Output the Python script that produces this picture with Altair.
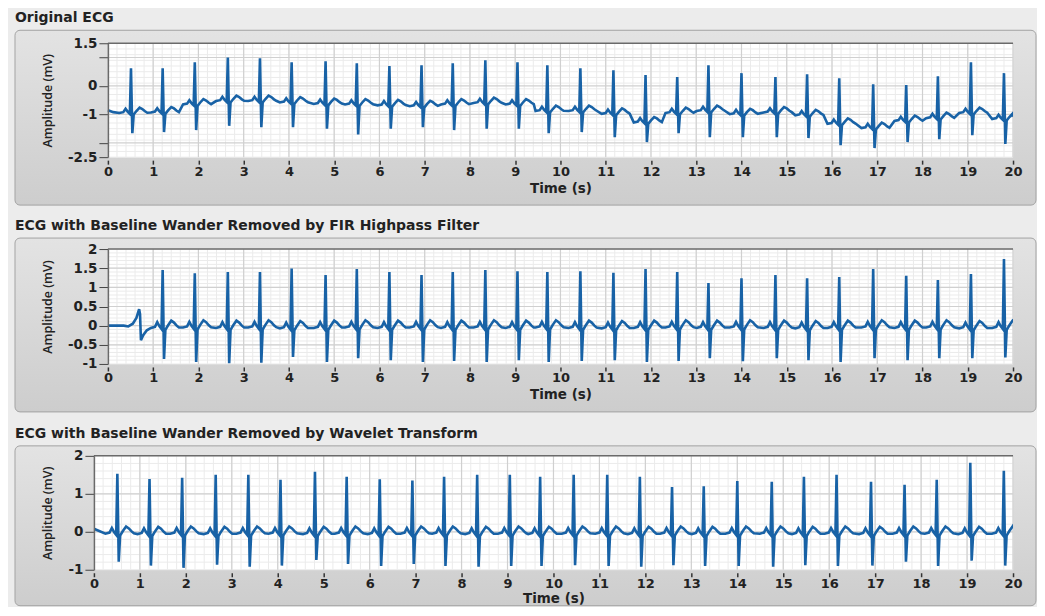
import altair as alt
import pandas as pd

# ---------------- data ----------------
# R-peak times (s) of the 28 beats (same in all three records)
beat_t = [0.51, 1.21, 1.92, 2.65, 3.36, 4.06, 4.81, 5.50, 6.22, 6.93, 7.62, 8.34, 9.05, 9.71,
          10.44, 11.17, 11.88, 12.58, 13.27, 14.00, 14.75, 15.45, 16.16, 16.91, 17.64, 18.34,
          19.07, 19.80]

# Original ECG: isoelectric level, R-peak and S-trough per beat (mV)
ecg1_base = [-0.92, -0.90, -0.62, -0.50, -0.50, -0.55, -0.60, -0.62, -0.65, -0.68, -0.62, -0.57,
             -0.62, -0.85, -0.85, -0.95, -1.25, -0.92, -0.85, -0.96, -0.90, -1.00, -1.30, -1.45,
             -1.20, -1.10, -0.92, -1.13]
ecg1_r = [0.62, 0.62, 0.83, 1.00, 0.97, 0.83, 0.87, 0.80, 0.70, 0.73, 0.80, 0.90, 0.83, 0.73,
          0.62, 0.55, 0.38, 0.31, 0.73, 0.45, 0.31, 0.41, 0.27, 0.06, 0.03, 0.34, 0.83, 0.45]
ecg1_s = [-1.66, -1.62, -1.55, -1.40, -1.45, -1.45, -1.50, -1.70, -1.50, -1.45, -1.55, -1.50,
          -1.50, -1.66, -1.62, -1.80, -1.97, -1.66, -1.80, -1.80, -1.80, -1.83, -2.08, -2.18,
          -1.97, -1.87, -1.73, -2.04]
ecg1_lead_t = [0.00, 0.12]
ecg1_lead_v = [-0.85, -0.92]
ecg1_end_t = [20.0]
ecg1_end_v = [-1.08]

# FIR high-pass: start-up transient, then beats 2..28
ecg2_lead_t = [0.00, 0.35, 0.45, 0.55, 0.63, 0.69, 0.71, 0.73, 0.78, 0.86]
ecg2_lead_v = [0.00, 0.00, -0.02, 0.05, 0.20, 0.43, 0.30, -0.38, -0.25, -0.12]
ecg2_base = [-0.03, -0.02, -0.03, -0.02, -0.04, -0.03, -0.02, -0.03, -0.02, -0.03, -0.02, -0.03,
             -0.02, -0.03, -0.04, -0.03, -0.02, -0.03, -0.02, -0.03, -0.04, -0.03, -0.02, -0.03,
             -0.02, -0.04, -0.03]
ecg2_r = [1.45, 1.37, 1.40, 1.40, 1.49, 1.32, 1.48, 1.40, 1.32, 1.40, 1.45, 1.42, 1.40, 1.42,
          1.38, 1.48, 1.40, 1.11, 1.24, 1.32, 1.24, 1.27, 1.48, 1.30, 1.19, 1.35, 1.74]
ecg2_s = [-0.87, -0.95, -0.98, -0.97, -0.82, -0.95, -0.85, -0.90, -0.95, -0.92, -0.95, -0.90,
          -0.95, -0.92, -0.90, -0.95, -0.92, -0.85, -0.93, -0.85, -0.90, -0.95, -0.85, -0.90,
          -0.85, -0.85, -0.83]
ecg2_end_t = [20.0]
ecg2_end_v = [0.12]

# Wavelet transform: all 28 beats
ecg3_lead_t = [0.00]
ecg3_lead_v = [0.08]
ecg3_base = [-0.02, -0.03, -0.02, -0.03, -0.02, -0.02, -0.03, -0.02, -0.03, -0.02, -0.02, -0.03,
             -0.02, -0.03, -0.02, -0.02, -0.03, -0.02, -0.03, -0.02, -0.02, -0.03, -0.02, -0.03,
             -0.02, -0.02, -0.03, -0.02]
ecg3_r = [1.53, 1.39, 1.42, 1.50, 1.50, 1.37, 1.58, 1.45, 1.38, 1.35, 1.45, 1.50, 1.50, 1.45,
          1.50, 1.50, 1.45, 1.18, 1.20, 1.34, 1.32, 1.45, 1.50, 1.32, 1.24, 1.37, 1.82, 1.61]
ecg3_s = [-0.79, -0.89, -0.95, -0.87, -0.92, -0.89, -0.74, -0.85, -0.90, -0.85, -0.90, -0.92,
          -0.90, -0.90, -0.88, -0.90, -0.92, -0.88, -0.90, -0.90, -0.92, -0.88, -0.90, -0.89,
          -0.79, -0.90, -0.76, -0.89]
ecg3_end_t = [20.0]
ecg3_end_v = [0.10]

# one heartbeat: offset from R (s) and level above baseline (mV)
tpl_dt = [-0.26, -0.17, -0.12, -0.07, -0.025, 0.0, 0.03, 0.06, 0.12, 0.19, 0.25, 0.31, 0.36]
tpl_v = [-0.03, 0.00, 0.12, 0.01, -0.06, "R", "S", -0.08, 0.04, 0.16, 0.11, 0.03, -0.02]

panel_titles = ["Original ECG",
                "ECG with Baseline Wander Removed by FIR Highpass Filter",
                "ECG with Baseline Wander Removed by Wavelet Transform"]

x_major = list(range(21))
x_minor = [i / 5 for i in range(101)]


def trace(lead_t, lead_v, beats, base, r, s, end_t, end_v):
    ts, vs = list(lead_t), list(lead_v)
    for t0, b, rv, sv in zip(beats, base, r, s):
        for dt, dv in zip(tpl_dt, tpl_v):
            t = round(t0 + dt, 4)
            if t >= 20 or t <= ts[-1]:
                continue
            v = rv if dv == "R" else sv if dv == "S" else b + dv
            ts.append(t)
            vs.append(v)
    ts += end_t
    vs += end_v
    return pd.DataFrame({"t": ts, "v": vs})


df1 = trace(ecg1_lead_t, ecg1_lead_v, beat_t, ecg1_base, ecg1_r, ecg1_s, ecg1_end_t, ecg1_end_v)
df2 = trace(ecg2_lead_t, ecg2_lead_v, beat_t[1:], ecg2_base, ecg2_r, ecg2_s, ecg2_end_t, ecg2_end_v)
df3 = trace(ecg3_lead_t, ecg3_lead_v, beat_t, ecg3_base, ecg3_r, ecg3_s, ecg3_end_t, ecg3_end_v)

WIDE = "DejaVu Sans"
FONT = "Open Sans"
BLUE = "#1862a6"
TXT = "#222222"
W = 920

frame_fill = alt.Gradient(
    gradient="linear",
    stops=[alt.GradientStop(color="#e3e3e3", offset=0), alt.GradientStop(color="#cdcdcd", offset=1)],
    x1=0, x2=0, y1=0, y2=1,
)


def panel(df, title, x0, h, frame, ydom, yvals, ymajor, yminor, label_expr, title_x, tpad):
    xs = alt.Scale(domain=[0, 20], range=[x0, W], nice=False, zero=False)
    ys = alt.Scale(domain=ydom, nice=False, zero=False)
    xax = alt.Axis(values=x_major, title="Time (s)", domain=False, offset=3, tickSize=4,
                   tickWidth=1.5, tickColor="#333333", labelPadding=1, titlePadding=tpad,
                   labelFlush=False, labelFontSize=13, titleFontSize=13.5, zindex=2)
    yax = alt.Axis(values=yvals, labelExpr=label_expr, title="Amplitude (mV)", offset=-x0,
                   domain=True, domainColor="#6a6a6a", domainWidth=1.5, tickSize=9,
                   tickColor="#444444", labelPadding=2, labelFontSize=13.5,
                   titleFont=FONT, titleFontSize=12.5, titleFontWeight=600,
                   titleX=title_x, titleY=h / 2,
                   titleAngle=270, titleBaseline="middle", titleAlign="center", zindex=2)
    one = pd.DataFrame({"k": [0]})
    fx0, fx1, fy0, fy1 = frame
    box = alt.Chart(one).mark_rect(fill=frame_fill, stroke="#a3a3a3", strokeWidth=1, cornerRadius=5).encode(
        x=alt.value(fx0), x2=alt.value(fx1), y=alt.value(fy0), y2=alt.value(fy1))
    ttl = alt.Chart(pd.DataFrame({"title": [title]})).mark_text(
        align="left", baseline="alphabetic", font=WIDE, fontSize=14, fontWeight="bold", color=TXT).encode(
        text="title:N", x=alt.value(fx0), y=alt.value(fy0 - 8))
    bg = alt.Chart(one).mark_rect(fill="white").encode(
        x=alt.value(x0), x2=alt.value(W), y=alt.value(0), y2=alt.value(h))
    minx = alt.Chart(pd.DataFrame({"t": x_minor})).mark_rule(color="#ebebeb", strokeWidth=1).encode(
        x=alt.X("t:Q", scale=xs, axis=xax))
    miny = alt.Chart(pd.DataFrame({"v": yminor})).mark_rule(color="#ebebeb", strokeWidth=1).encode(
        y=alt.Y("v:Q", scale=ys, axis=yax), x=alt.value(x0), x2=alt.value(W))
    majx = alt.Chart(pd.DataFrame({"t": x_major})).mark_rule(color="#d0d0d0", strokeWidth=1.2).encode(
        x=alt.X("t:Q", scale=xs, axis=xax))
    majy = alt.Chart(pd.DataFrame({"v": ymajor})).mark_rule(color="#d0d0d0", strokeWidth=1.2).encode(
        y=alt.Y("v:Q", scale=ys, axis=yax), x=alt.value(x0), x2=alt.value(W))
    topb = alt.Chart(one).mark_rule(color="#6a6a6a", strokeWidth=1.5).encode(
        y=alt.value(0), x=alt.value(x0), x2=alt.value(W))
    line = alt.Chart(df).mark_line(color=BLUE, strokeWidth=2.6, clip=True).encode(
        x=alt.X("t:Q", scale=xs, axis=xax),
        y=alt.Y("v:Q", scale=ys, axis=yax),
    )
    return alt.layer(box, ttl, bg, minx, miny, majx, majy, topb, line).properties(width=W, height=h)


p1 = panel(df1, panel_titles[0], 14, 114, (-79, 943, -13, 162), [-2.5, 1.5],
           [-2.5, -2, -1, 0, 1, 1.5], [-2, -1, 0, 1], [i / 5 - 2.5 for i in range(21)],
           "datum.value == 1 || datum.value == -2 ? '' : '' + datum.value", -60, 3)
p2 = panel(df2, panel_titles[1], 14, 115, (-79, 943, -11, 163), [-1, 2],
           [-1, -0.5, 0, 0.5, 1, 1.5, 2], [-0.5, 0, 0.5, 1, 1.5], [i / 10 - 1 for i in range(31)],
           "'' + datum.value", -60, 3)
p3 = panel(df3, panel_titles[2], 0, 114, (-79, 943, -10, 150), [-1, 2],
           [-1, 0, 1, 2], [0, 1], [i / 5 - 1 for i in range(16)],
           "'' + datum.value", -46, 1)

chart = alt.vconcat(p1, p2, p3, spacing=92, bounds="flush").properties(
    padding={"left": 6, "top": 3, "right": 0, "bottom": 0},
    background="#ececec",
).configure_view(strokeWidth=0).configure_axis(
    labelFont=WIDE, labelFontWeight="bold", labelColor=TXT,
    titleFont=WIDE, titleFontWeight="bold", titleColor=TXT, grid=False,
)

chart.save("out.html", embed_options={"renderer": "svg", "actions": False})
